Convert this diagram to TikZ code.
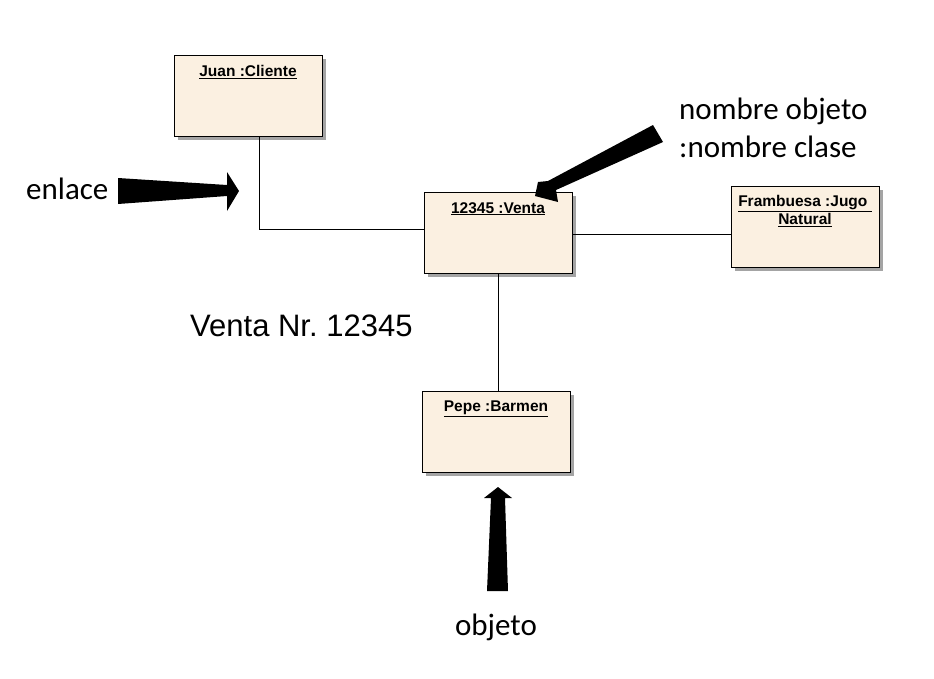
\documentclass[tikz,border=0pt]{standalone}
\usepackage{fontspec}
\setmainfont{Liberation Sans}
\newfontfamily\calib{Carlito}
\definecolor{boxfill}{HTML}{FBF0E1}
\definecolor{shadowgray}{HTML}{A4A4A4}
\frenchspacing
\begin{document}
\begin{tikzpicture}[x=1pt,y=-1pt,
  objbox/.style={draw=black, line width=1pt, fill=boxfill, minimum width=148pt, minimum height=81pt, inner sep=0pt,
    outer sep=0pt, anchor=north west},
  shadowbox/.style={fill=shadowgray, draw=none, minimum width=148pt, minimum height=81pt, inner sep=0pt, anchor=north west},
  objlabel/.style={font=\fontsize{15.5}{17}\selectfont\bfseries, anchor=north, inner sep=0pt, align=center},
  note/.style={font=\calib\fontsize{31}{38}\selectfont, inner sep=0pt, anchor=west},
  link/.style={draw=black, line width=0.9pt},
  bigarrow/.style={fill=black, draw=none}]
\useasboundingbox (0,0) rectangle (934,678);
% shadows
\node[shadowbox] at (178,59) {};
\node[shadowbox] at (428,196) {};
\node[shadowbox] at (735,190) {};
\node[shadowbox] at (426,395) {};
% boxes
\node[objbox] (juan) at (174,55) {};
\node[objbox] (venta) at (424,192) {};
\node[objbox] (framb) at (731,186) {};
\node[objbox] (pepe) at (422,391) {};
% labels
\node[objlabel] (ljuan) at ([yshift=-10pt]juan.north) {\underline{Juan :Cliente}};
\node[objlabel] (lventa) at ([yshift=-10pt]venta.north) {\underline{12345 :Venta}};
\node[objlabel] (lframb) at ([yshift=-9pt]framb.north) {\underline{Frambuesa :Jugo\ }\\[1pt]\underline{Natural}};
\node[objlabel] (lpepe) at ([yshift=-10pt]pepe.north) {\underline{Pepe :Barmen}};
% links
\coordinate (jb) at (259,137);
\coordinate (vw) at (424,229);
\draw[link] (jb) |- (vw);
\draw[link] ([yshift=-2pt]venta.east) -- ([yshift=-2pt]venta.east -| framb.west);
\draw[link] (venta.south) -- (venta.south |- pepe.north);
% annotations
\node[note] (enlace) at (26,189) {enlace};
\node[note, align=left, anchor=north west] (nombre) at (679,98) {nombre objeto\\:nombre clase};
\node[font=\fontsize{31}{34}\selectfont, inner sep=0pt, anchor=west] (ventanr) at (190,326) {Venta Nr. 12345};
\node[note, anchor=center] (objeto) at (496,627) {objeto};
% big arrows
\fill[bigarrow] (118,178) -- (227,185) -- (227,172) -- (239,191) -- (227,211) -- (227,196) -- (118,204) -- cycle;
\fill[bigarrow] (653,125) -- (663,142) -- (556,190) -- (558,202) -- (535,196) -- (538,182) -- (548,181) -- cycle;
\fill[bigarrow] (487,591) -- (491,498) -- (484,498) -- (498,487) -- (512,498) -- (505,498) -- (508,591) -- cycle;
\end{tikzpicture}
\end{document}
